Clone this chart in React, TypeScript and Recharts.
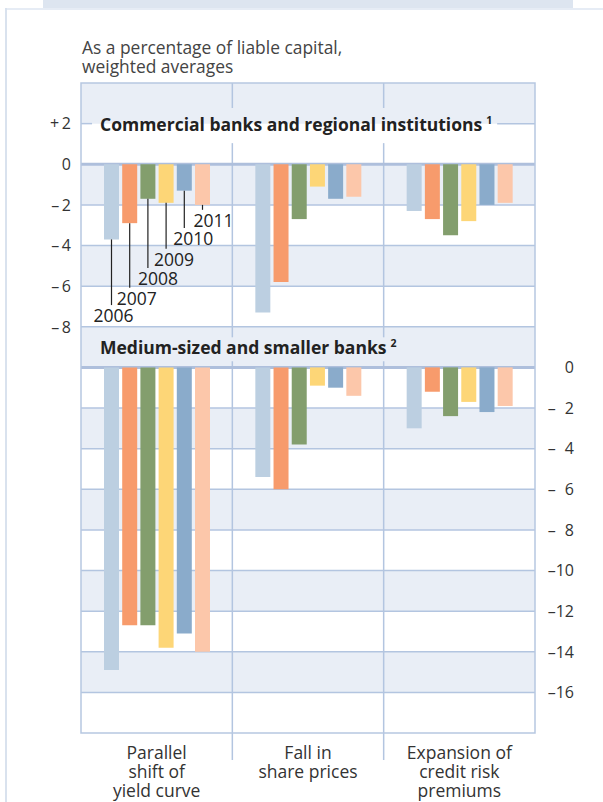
import React from "react";
import { ComposedChart, Bar, XAxis, YAxis, ReferenceArea, ReferenceLine } from "recharts";

const categories = ["Parallel shift of yield curve", "Fall in share prices", "Expansion of credit risk premiums"];
const categoryLines = [["Parallel", "shift of", "yield curve"], ["Fall in", "share prices"], ["Expansion of", "credit risk", "premiums"]];
const years = ["2006", "2007", "2008", "2009", "2010", "2011"];
const yearColors = ["#bccfe1", "#f79b6c", "#839e6d", "#fdd677", "#8aabcb", "#fcc7aa"];

// Commercial banks and regional institutions (per category, years 2006..2011)
const commercialParallelShift = [-3.7, -2.9, -1.7, -1.9, -1.3, -2.0];
const commercialSharePrices = [-7.3, -5.8, -2.7, -1.1, -1.7, -1.6];
const commercialCreditRisk = [-2.3, -2.7, -3.5, -2.8, -2.0, -1.9];
// Medium-sized and smaller banks
const smallerParallelShift = [-14.9, -12.7, -12.7, -13.8, -13.1, -14.0];
const smallerSharePrices = [-5.4, -6.0, -3.8, -0.9, -1.0, -1.4];
const smallerCreditRisk = [-3.0, -1.2, -2.4, -1.7, -2.2, -1.9];

const leftTicks = [2, 0, -2, -4, -6, -8];
const rightTicks = [0, -2, -4, -6, -8, -10, -12, -14, -16];

// year annotation label levels (commercial-bank axis units) and horizontal nudges
const yearLabelLevels = [-7.45, -6.6, -5.62, -4.68, -3.65, -2.76];
const yearLabelDx = [-18, -13, -10, -12, -11, -9];

const commercialByCat = [commercialParallelShift, commercialSharePrices, commercialCreditRisk];
const smallerByCat = [smallerParallelShift, smallerSharePrices, smallerCreditRisk];

const data = categories.map((cat, i) => {
  const row: any = { cat, slot: i + 0.5 };
  years.forEach((y, j) => {
    row["c" + y] = commercialByCat[i][j];
    row["s" + y] = smallerByCat[i][j];
  });
  return row;
});

const FONT = "'Open Sans', 'Noto Sans', sans-serif";
const GRID = "#b3c5e0";
const BAND = "#e9eef6";
const TEXT = "#333";

// layout in left-axis units (left axis: commercial banks; right axis offset by 10)
const bandTops = [4, 0, -4, -8, -12, -16, -20, -24];
const thinLines = [-2, -4, -6, -8, -12, -14, -16, -18, -20, -22, -24, -26];
const thickLines = [0, -10];

const fmtLeft = (v: number) => (v > 0 ? "+\u2009" + v : v < 0 ? "\u2013\u2009" + Math.abs(v) : "0");
const fmtRight = (v: number) => {
  if (v === 0) return "0";
  const a = Math.abs(v);
  return "\u2013" + (a < 10 ? "\u2007" : "") + a;
};

const LeftTick = (props: any) => {
  const { x, y, payload } = props;
  return (
    <text x={Number(x)} y={Number(y)} dy="0.36em" textAnchor="end" fontSize={16} fill={TEXT} fontFamily={FONT}>
      {fmtLeft(payload.value)}
    </text>
  );
};

const RightTick = (props: any) => {
  const { x, y, payload } = props;
  return (
    <text x={Number(x)} y={Number(y)} dy="0.36em" textAnchor="end" fontSize={16} fill={TEXT} fontFamily={FONT}>
      {fmtRight(payload.value)}
    </text>
  );
};

const CatTick = (props: any) => {
  const { x, y, payload } = props;
  const nx = Number(x);
  const ny = Number(y);
  const idx = categories.indexOf(payload.value);
  const lines = categoryLines[idx] || [String(payload.value)];
  return (
    <g>
      {lines.map((l, k) => (
        <text key={k} x={nx} y={ny + 26 + k * 19.2} textAnchor="middle" fontSize={17.5} fill={TEXT} fontFamily={FONT}>
          {l}
        </text>
      ))}
    </g>
  );
};

const makeYearLabel = (j: number) => (props: any) => {
  const { x, y, width, height, index } = props;
  if (index !== 0) return null;
  const top = Math.min(y, y + height);
  const bottom = Math.max(y, y + height);
  const pxPerUnit = (bottom - top) / Math.abs(commercialParallelShift[j]);
  const cy = top + -yearLabelLevels[j] * pxPerUnit;
  const cx = x + width / 2;
  return (
    <g key={"yl" + j}>
      <line x1={cx} y1={bottom} x2={cx} y2={cy - 10.5} stroke="#222" strokeWidth={1.2} />
      <text x={cx + yearLabelDx[j]} y={cy} dy="0.36em" fontSize={17.5} fill="#222" fontFamily={FONT}>
        {years[j]}
      </text>
    </g>
  );
};

export default function App() {
  return (
    <div style={{ position: "absolute", left: 0, top: 0, width: 603, height: 802, background: "#fff", overflow: "hidden" }}>
      <div style={{ position: "absolute", left: 43, top: 0, width: 530, height: 7.5, background: "#dde5f0" }} />
      <div style={{ position: "absolute", left: 5, top: 8, width: 598, height: 1.5, background: "#e6ecf5" }} />
      <div style={{ position: "absolute", left: 5, top: 8, width: 2, height: 794, background: "#d9e2ee" }} />
      <div style={{ position: "absolute", left: 0, top: 0 }}>
        <ComposedChart width={603} height={802} data={data} margin={{ top: 83, right: 8, bottom: 9, left: 21 }} barSize={15} barGap={3.2}>
          <XAxis xAxisId="t" dataKey="cat" type="category" interval={0} tickLine={false} axisLine={false} tickSize={0} tickMargin={0} height={60} tick={<CatTick />} />
          <XAxis xAxisId="b" dataKey="cat" type="category" hide height={0} />
          <XAxis xAxisId="n" dataKey="slot" type="number" domain={[0, 3]} ticks={[0, 1, 2, 3]} hide height={0} allowDataOverflow />
          <YAxis yAxisId="L" domain={[-28, 4]} ticks={leftTicks} interval={0} allowDataOverflow width={60} tickLine={false} axisLine={false} tickSize={0} tickMargin={10} tick={<LeftTick />} />
          <YAxis yAxisId="R" orientation="right" domain={[-18, 14]} ticks={rightTicks} interval={0} allowDataOverflow width={60} tickLine={false} axisLine={false} tickSize={0} tickMargin={39} tick={<RightTick />} />

          {bandTops.map((t) => (
            <ReferenceArea key={"band" + t} xAxisId="n" yAxisId="L" x1={0} x2={3} y1={t} y2={t - 2} fill={BAND} fillOpacity={1} stroke="none" ifOverflow="visible" zIndex={-60} />
          ))}
          {thinLines.map((v) => (
            <ReferenceLine key={"thin" + v} xAxisId="n" yAxisId="L" y={v} stroke={GRID} strokeWidth={1.5} ifOverflow="visible" zIndex={-50} />
          ))}
          <ReferenceLine xAxisId="n" yAxisId="L" segment={[{ x: 0, y: 2 }, { x: 0.073, y: 2 }]} stroke={GRID} strokeWidth={1.5} ifOverflow="visible" zIndex={-50} />
          <ReferenceLine xAxisId="n" yAxisId="L" segment={[{ x: 2.75, y: 2 }, { x: 3, y: 2 }]} stroke={GRID} strokeWidth={1.5} ifOverflow="visible" zIndex={-50} />
          {[1, 2].map((d) => (
            <React.Fragment key={"div" + d}>
              <ReferenceLine xAxisId="n" yAxisId="L" segment={[{ x: d, y: 4 }, { x: d, y: 2.77 }]} stroke={GRID} strokeWidth={1.5} ifOverflow="visible" zIndex={-50} />
              <ReferenceLine xAxisId="n" yAxisId="L" segment={[{ x: d, y: 1.04 }, { x: d, y: -8.52 }]} stroke={GRID} strokeWidth={1.5} ifOverflow="visible" zIndex={-50} />
              <ReferenceLine xAxisId="n" yAxisId="L" segment={[{ x: d, y: -9.7 }, { x: d, y: -29.33 }]} stroke={GRID} strokeWidth={1.5} ifOverflow="visible" zIndex={-50} />
            </React.Fragment>
          ))}
          {thickLines.map((v) => (
            <ReferenceLine key={"thick" + v} xAxisId="n" yAxisId="L" y={v} stroke="#aebfdc" strokeWidth={3} ifOverflow="visible" zIndex={-45} />
          ))}
          <ReferenceArea xAxisId="n" yAxisId="L" x1={0} x2={3} y1={4} y2={-28} fill="none" stroke="#b6c7e1" strokeWidth={1.5} ifOverflow="visible" zIndex={-40} />

          {years.map((y, j) => (
            <Bar key={"c" + y} xAxisId="t" yAxisId="L" dataKey={"c" + y} fill={yearColors[j]} isAnimationActive={false} label={makeYearLabel(j)} />
          ))}
          {years.map((y, j) => (
            <Bar key={"s" + y} xAxisId="b" yAxisId="R" dataKey={"s" + y} fill={yearColors[j]} isAnimationActive={false} />
          ))}
        </ComposedChart>
      </div>
      <svg width={603} height={802} style={{ position: "absolute", left: 0, top: 0, pointerEvents: "none" }}>
        <text x={82} y={54} fontSize={17.4} fill="#444" fontFamily={FONT}>As a percentage of liable capital,</text>
        <text x={82} y={73} fontSize={17.4} fill="#444" fontFamily={FONT}>weighted averages</text>
        <text x={100} y={131} fontSize={17.5} fontWeight="bold" fill="#222" fontFamily={FONT}>
          Commercial banks and regional institutions
          <tspan fontSize={10.5} dx={4} dy={-7}>1</tspan>
        </text>
        <text x={100} y={354} fontSize={17.5} fontWeight="bold" fill="#222" fontFamily={FONT}>
          Medium-sized and smaller banks
          <tspan fontSize={10.5} dx={4} dy={-7}>2</tspan>
        </text>
      </svg>
    </div>
  );
}
